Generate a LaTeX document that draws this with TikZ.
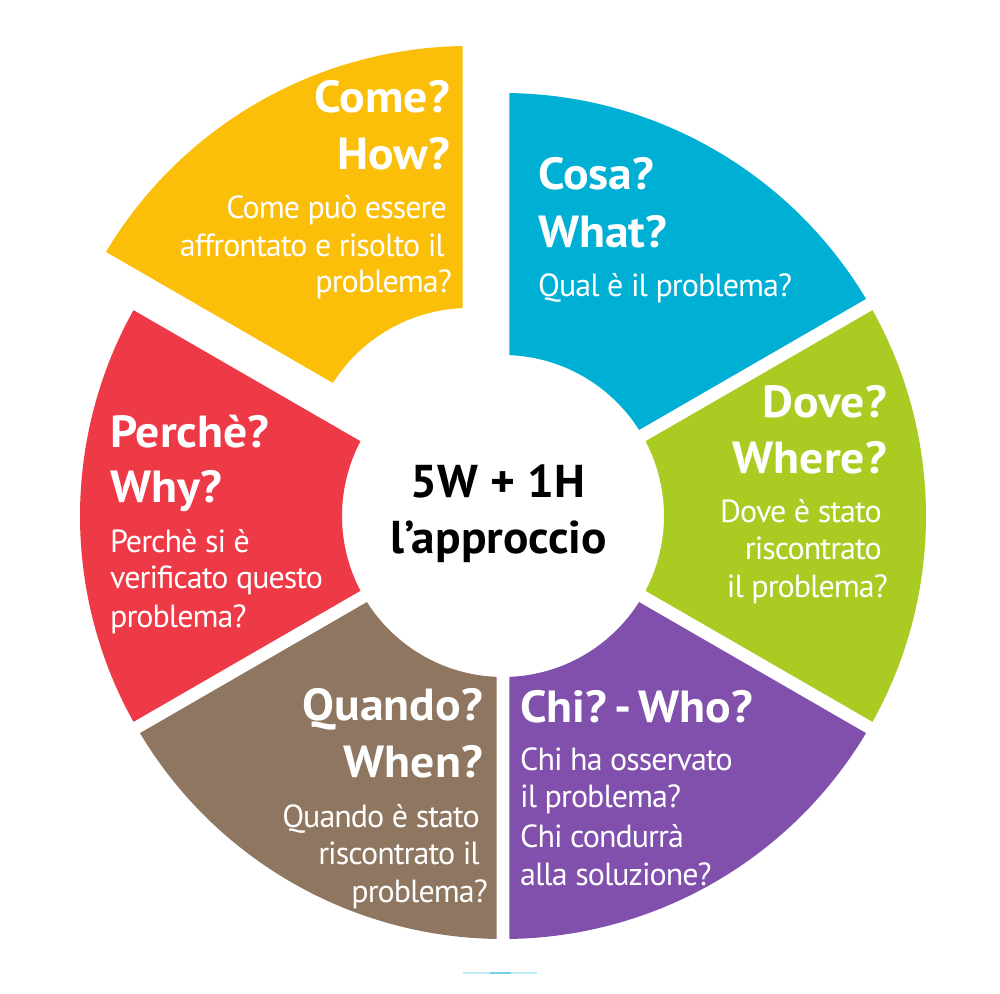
\documentclass[tikz,border=0pt]{standalone}
\usepackage{fontspec}
\setmainfont{PT Sans}
\newfontfamily\ttlfam[FakeStretch=1.06]{PT Sans}
\newfontfamily\bodyfam[LetterSpace=-3]{PT Sans}
\newfontfamily\ctrfam[FakeStretch=1.03]{PT Sans}
\definecolor{cyel}{RGB}{251,191,10}
\definecolor{cblu}{RGB}{0,176,212}
\definecolor{cgrn}{RGB}{170,204,34}
\definecolor{cpur}{RGB}{129,80,172}
\definecolor{cbrn}{RGB}{143,118,96}
\definecolor{cred}{RGB}{238,57,70}
\newcommand\ttlfont{\ttlfam\bfseries\fontsize{45}{54}\selectfont}
\newcommand\bdyfont{\bodyfam\fontsize{32}{38}\selectfont}
\newcommand\ctrfont{\ctrfam\bfseries\fontsize{46}{56}\selectfont}
\def\Ro{423pt}
\def\Ri{161pt}
\def\dO{0.88}
\def\dI{2.31}
\newcommand\ringseg[4]{%
  \fill[#1, shift={#4}] ({#2+\dO}:\Ro) arc[start angle={#2+\dO}, end angle={#3-\dO}, radius=\Ro]
    -- ({#3-\dI}:\Ri) arc[start angle={#3-\dI}, end angle={#2+\dI}, radius=\Ri] -- cycle;}
\begin{document}
\begin{tikzpicture}[x=1pt,y=1pt,
  ttl/.style={font=\ttlfont, text=white, inner sep=0pt},
  bdy/.style={font=\bdyfont, text=white, inner sep=0pt},
  ctr/.style={font=\ctrfont, text=black, inner sep=0pt, anchor=base}]
\useasboundingbox (-503,-477) rectangle (497,516);
\fill[white] (-503,-477) rectangle (497,516);
% ring segments
\ringseg{cblu}{30}{90}{(0,0)}
\ringseg{cgrn}{-30}{30}{(0,0)}
\ringseg{cpur}{-90}{-30}{(0,0)}
\ringseg{cbrn}{210}{270}{(0,0)}
\ringseg{cred}{150}{210}{(0,0)}
\ringseg{cyel}{90}{150}{(-34,47)}
% faint mark at the bottom
\draw[line width=1.5pt, cblu!25] (-40,-457) -- (34,-457);
\draw[line width=1.5pt, cblu!55] (-13,-457) -- (8,-457);
% centre
\node[ctr] (c1) at (-5,19) {5W + 1H};
\node[ctr] (c2) at (-4,-37) {l’approccio};
% yellow
\node[ttl, anchor=base east] (y1) at (-53,403) {Come?};
\node[ttl, anchor=base east] (y2) at (-53,346) {How?};
\node[bdy, anchor=base east] (y3) at (-56,297) {Come può essere};
\node[bdy, anchor=base east] (y4) at (-58,259) {affrontato e risolto il};
\node[bdy, anchor=base east] (y5) at (-51,223) {problema?};
% blue
\node[ttl, anchor=base west] (b1) at (35,326) {Cosa?};
\node[ttl, anchor=base west] (b2) at (35,268) {What?};
\node[bdy, anchor=base west] (b3) at (35,219) {Qual è il problema?};
% green
\node[ttl, anchor=base east] (g1) at (384,99) {Dove?};
\node[ttl, anchor=base east] (g2) at (384,43) {Where?};
\node[bdy, anchor=base east] (g3) at (379,-6) {Dove è stato};
\node[bdy, anchor=base east] (g4) at (379,-43) {riscontrato};
\node[bdy, anchor=base east] (g5) at (385,-81) {il problema?};
% red
\node[ttl, anchor=base west] (r1) at (-393,69) {Perchè?};
\node[ttl, anchor=base west] (r2) at (-393,14) {Why?};
\node[bdy, anchor=base west] (r3) at (-393,-36) {Perchè si è};
\node[bdy, anchor=base west] (r4) at (-393,-72) {verificato questo};
\node[bdy, anchor=base west] (r5) at (-393,-111) {problema?};
% brown
\node[ttl, anchor=base east] (n1) at (-20,-204) {Quando?};
\node[ttl, anchor=base east] (n2) at (-20,-261) {When?};
\node[bdy, anchor=base east] (n3) at (-23,-311) {Quando è stato};
\node[bdy, anchor=base east] (n4) at (-23,-348) {riscontrato il};
\node[bdy, anchor=base east] (n5) at (-15,-386) {problema?};
% purple
\node[ttl, anchor=base west] (p1) at (17,-206) {Chi?\kern-5pt\ -\ \kern-5pt Who?};
\node[bdy, anchor=base west] (p2) at (17,-254) {Chi ha osservato};
\node[bdy, anchor=base west] (p3) at (17,-291) {il problema?};
\node[bdy, anchor=base west] (p4) at (17,-331) {Chi condurrà};
\node[bdy, anchor=base west] (p5) at (17,-369) {alla soluzione?};
\end{tikzpicture}
\end{document}
